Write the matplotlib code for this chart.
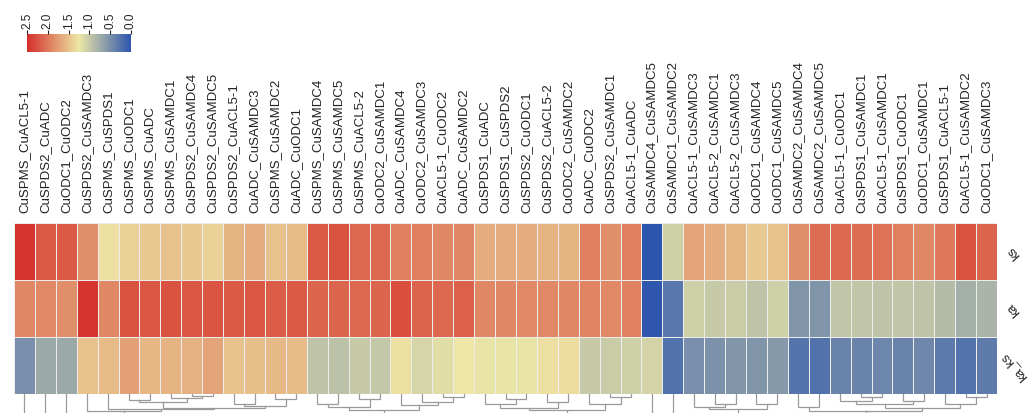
import numpy as np
import matplotlib
matplotlib.use("Agg")
import matplotlib.pyplot as plt
from matplotlib.colors import LinearSegmentedColormap

plt.rcParams["font.family"] = ["Liberation Sans", "DejaVu Sans"]

# ---- data -------------------------------------------------------------
pairs = [
    "CuSPMS_CuACL5-1", "CuSPDS2_CuADC", "CuODC1_CuODC2", "CuSPDS2_CuSAMDC3",
    "CuSPMS_CuSPDS1", "CuSPMS_CuODC1", "CuSPMS_CuADC", "CuSPMS_CuSAMDC1",
    "CuSPDS2_CuSAMDC4", "CuSPDS2_CuSAMDC5", "CuSPDS2_CuACL5-1", "CuADC_CuSAMDC3",
    "CuSPMS_CuSAMDC2", "CuADC_CuODC1", "CuSPMS_CuSAMDC4", "CuSPMS_CuSAMDC5",
    "CuSPMS_CuACL5-2", "CuODC2_CuSAMDC1", "CuADC_CuSAMDC4", "CuODC2_CuSAMDC3",
    "CuACL5-1_CuODC2", "CuADC_CuSAMDC2", "CuSPDS1_CuADC", "CuSPDS1_CuSPDS2",
    "CuSPDS2_CuODC1", "CuSPDS2_CuACL5-2", "CuODC2_CuSAMDC2", "CuADC_CuODC2",
    "CuSPDS2_CuSAMDC1", "CuACL5-1_CuADC", "CuSAMDC4_CuSAMDC5", "CuSAMDC1_CuSAMDC2",
    "CuACL5-1_CuSAMDC3", "CuACL5-2_CuSAMDC1", "CuACL5-2_CuSAMDC3", "CuODC1_CuSAMDC4",
    "CuODC1_CuSAMDC5", "CuSAMDC2_CuSAMDC4", "CuSAMDC2_CuSAMDC5", "CuACL5-1_CuODC1",
    "CuSPDS1_CuSAMDC1", "CuACL5-1_CuSAMDC1", "CuSPDS1_CuODC1", "CuODC1_CuSAMDC1",
    "CuSPDS1_CuACL5-1", "CuACL5-1_CuSAMDC2", "CuODC1_CuSAMDC3",
]

row_names = ["ks", "ka", "ka_ks"]

ks = [2.45, 2.20, 2.20, 1.85, 1.30, 1.40, 1.45, 1.50, 1.45, 1.40,
      1.60, 1.65, 1.50, 1.55, 2.20, 2.25, 2.10, 2.10, 1.95, 1.95,
      1.90, 1.90, 1.65, 1.65, 1.65, 1.60, 1.60, 1.95, 1.85, 1.95,
      0.00, 1.05, 1.70, 1.65, 1.58, 1.45, 1.50, 1.85, 2.08, 2.10,
      2.08, 2.05, 1.95, 1.90, 2.00, 2.25, 2.12]

ka = [1.90, 1.88, 1.85, 2.45, 1.90, 2.25, 2.22, 2.25, 2.22, 2.23,
      2.20, 2.22, 2.18, 2.20, 2.12, 2.12, 2.10, 2.12, 2.28, 2.13,
      2.10, 2.15, 1.90, 1.90, 1.88, 1.88, 1.90, 1.92, 1.88, 1.93,
      0.02, 0.30, 1.05, 1.00, 1.02, 0.95, 1.05, 0.55, 0.55, 0.97,
      0.97, 0.95, 0.97, 0.95, 0.88, 0.78, 0.82]

ka_ks = [0.50, 0.72, 0.72, 1.50, 1.55, 1.72, 1.58, 1.60, 1.62, 1.70,
         1.50, 1.52, 1.56, 1.54, 0.95, 0.93, 1.00, 0.98, 1.30, 1.10,
         1.17, 1.25, 1.22, 1.22, 1.22, 1.30, 1.32, 1.00, 1.02, 1.05,
         1.08, 0.25, 0.50, 0.52, 0.56, 0.55, 0.58, 0.27, 0.25, 0.40,
         0.40, 0.42, 0.40, 0.43, 0.32, 0.26, 0.33]

# column clustering: (left, right, height); ids < 47 are leaves,
# id 47 + k is the cluster formed by merge k
merges = [
    (1, 2, 22), (0, 47, 30),
    (5, 6, 6), (8, 9, 2), (7, 50, 4), (49, 51, 8),
    (10, 11, 10), (12, 13, 5), (53, 54, 12), (52, 55, 14),
    (4, 56, 15), (3, 57, 17),
    (14, 15, 10), (16, 17, 5), (59, 60, 13),
    (20, 21, 3), (19, 62, 8), (18, 63, 11), (61, 64, 16),
    (23, 24, 5), (22, 66, 10), (25, 26, 8), (67, 68, 14),
    (28, 29, 3), (27, 70, 10), (69, 71, 16), (65, 72, 20),
    (33, 34, 10), (32, 74, 13), (35, 36, 10), (75, 76, 15),
    (37, 38, 13), (40, 41, 3), (39, 79, 6.7), (42, 43, 6.7), (80, 81, 10),
    (45, 46, 3), (44, 83, 10), (82, 84, 14), (78, 85, 17), (77, 86, 20),
    (58, 73, 25), (48, 88, 30), (31, 87, 25), (30, 90, 30), (89, 91, 40),
]

# ---- figure -----------------------------------------------------------
W, H = 1035, 414
fig = plt.figure(figsize=(W / 100, H / 100), dpi=100)

cmap = LinearSegmentedColormap.from_list(
    "ryb", ["#2c55ae", "#ede7a6", "#d52e2a"])
vmin, vmax = 0.0, 2.5

data = np.array([ks, ka, ka_ks])
n_rows, n_cols = data.shape

hx0, hx1 = 14, 997
hy_top, hy_bot = 224, 395
ax = fig.add_axes([hx0 / W, 1 - hy_bot / H, (hx1 - hx0) / W, (hy_bot - hy_top) / H])
mesh = ax.pcolormesh(data, cmap=cmap, vmin=vmin, vmax=vmax,
                     edgecolors="#ededeb", linewidth=0.6)
ax.set_xlim(0, n_cols)
ax.set_ylim(n_rows, 0)
for s in ax.spines.values():
    s.set_visible(False)

ax.set_xticks(np.arange(n_cols) + 0.5)
ax.set_xticklabels(pairs, rotation=90, fontsize=9.5, color="#222222")
ax.xaxis.tick_top()
ax.tick_params(axis="x", length=0, pad=8)

ax.set_yticks(np.arange(n_rows) + 0.5)
ax.set_yticklabels(row_names, rotation=132, fontsize=9, color="#222222",
                   va="center", ha="center", rotation_mode="anchor")
ax.yaxis.tick_right()
ax.tick_params(axis="y", length=0, pad=12)

# ---- dendrogram below the heatmap -------------------------------------
dax = fig.add_axes([hx0 / W, 0, (hx1 - hx0) / W, (H - hy_bot) / H], sharex=ax)
dax.set_ylim(19, 0)
dax.axis("off")

pos = {i: (i + 0.5, 0.0) for i in range(n_cols)}
for k, (a, b, h) in enumerate(merges):
    xa, ha = pos[a]
    xb, hb = pos[b]
    dax.plot([xa, xa, xb, xb], [ha, h, h, hb], color="#9a9a9a", lw=0.9,
             solid_joinstyle="miter")
    pos[n_cols + k] = ((xa + xb) / 2, h)

# ---- colour key ---------------------------------------------------------
cax = fig.add_axes([27 / W, 1 - 53 / H, (131 - 27) / W, (53 - 35) / H])
cb = fig.colorbar(mesh, cax=cax, orientation="horizontal")
cb.outline.set_visible(False)
cax.invert_xaxis()
cb.set_ticks([2.5, 2.0, 1.5, 1.0, 0.5, 0.0])
cax.xaxis.set_ticks_position("top")
cax.tick_params(axis="x", length=3, width=0.8, pad=1, labelsize=8.5,
                labelrotation=90, colors="#222222")
cb.set_ticklabels(["2.5", "2.0", "1.5", "1.0", "0.5", "0.0"])

fig.savefig("out.png", dpi=100)
